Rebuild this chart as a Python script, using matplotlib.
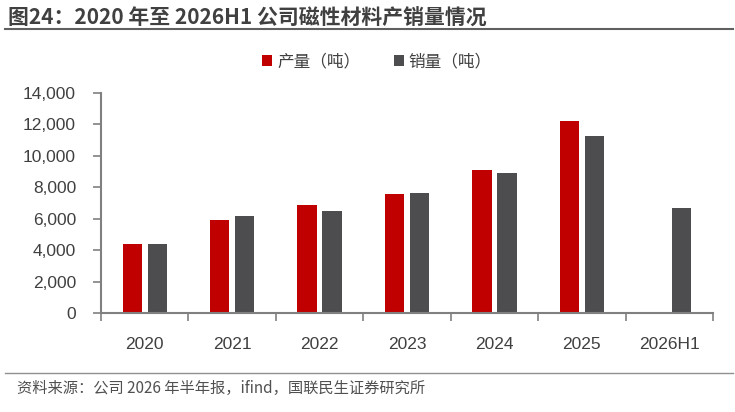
import numpy as np
import matplotlib
matplotlib.use("Agg")
import matplotlib.pyplot as plt
from matplotlib.ticker import FuncFormatter

plt.rcParams['font.family'] = ['Liberation Sans', 'Noto Sans CJK SC', 'DejaVu Sans']

# data
years = ['2020', '2021', '2022', '2023', '2024', '2025', '2026H1']
production = [4400, 5900, 6900, 7600, 9100, 12200, np.nan]
sales = [4400, 6150, 6500, 7650, 8900, 11250, 6700]

RED = '#C00000'
GREY = '#4D4D4F'
TXT = '#404040'

fig = plt.figure(figsize=(7.35, 4.12), dpi=100)
ax = fig.add_axes([101 / 735, 1 - 313 / 412, 612 / 735, 220 / 412])

x = np.arange(len(years))
w = 0.22
off = 0.143
ax.bar(x - off, production, w, color=RED, label='产量（吨）')
ax.bar(x + off, sales, w, color=GREY, label='销量（吨）')

ax.set_xlim(-0.5, len(years) - 0.5)
ax.set_ylim(0, 14000)
ax.set_yticks(np.arange(0, 14001, 2000))
ax.yaxis.set_major_formatter(FuncFormatter(lambda v, p: f'{int(v):,}'))

# category labels centred, ticks on the boundaries
ax.set_xticks(np.arange(-0.5, len(years), 1.0))
ax.set_xticklabels([])
ax.set_xticks(x, minor=True)
ax.set_xticklabels(years, minor=True)
ax.tick_params(axis='x', which='major', length=6, width=1.2, color='#808080', direction='out')
ax.tick_params(axis='x', which='minor', length=0, pad=17, labelsize=12.5, labelcolor=TXT)
ax.tick_params(axis='y', length=6, width=1.2, color='#808080', pad=12, labelsize=12.5, labelcolor=TXT)

for s in ['top', 'right']:
    ax.spines[s].set_visible(False)
for s in ['left', 'bottom']:
    ax.spines[s].set_color('#808080')
    ax.spines[s].set_linewidth(1.5)

leg = fig.legend(loc='center', bbox_to_anchor=(377 / 735, 1 - 62 / 412),
                 ncol=2, frameon=False, handlelength=0.6, handleheight=0.6,
                 handletextpad=0.3, columnspacing=2.0,
                 prop={'family': ['Noto Sans CJK SC'], 'size': 12})
for t in leg.get_texts():
    t.set_color(TXT)

# title and header/footer rules
fig.text(8 / 735, 1 - 18 / 412, '图24：2020 年至 2026H1 公司磁性材料产销量情况',
         fontsize=15, fontweight='bold', color=TXT, va='center', ha='left',
         family=['Noto Sans CJK SC'])
fig.add_artist(plt.Line2D([5 / 735, 733 / 735], [1 - 29 / 412] * 2, color='#606060', lw=1.5))
fig.add_artist(plt.Line2D([5 / 735, 733 / 735], [1 - 373 / 412] * 2, color='#909090', lw=1.0))
fig.text(17 / 735, 1 - 388 / 412, '资料来源：公司 2026 年半年报，ifind，国联民生证券研究所',
         fontsize=11, color='#505050', va='center', ha='left', family=['Noto Sans CJK SC'])

fig.savefig('out.png', dpi=100)
